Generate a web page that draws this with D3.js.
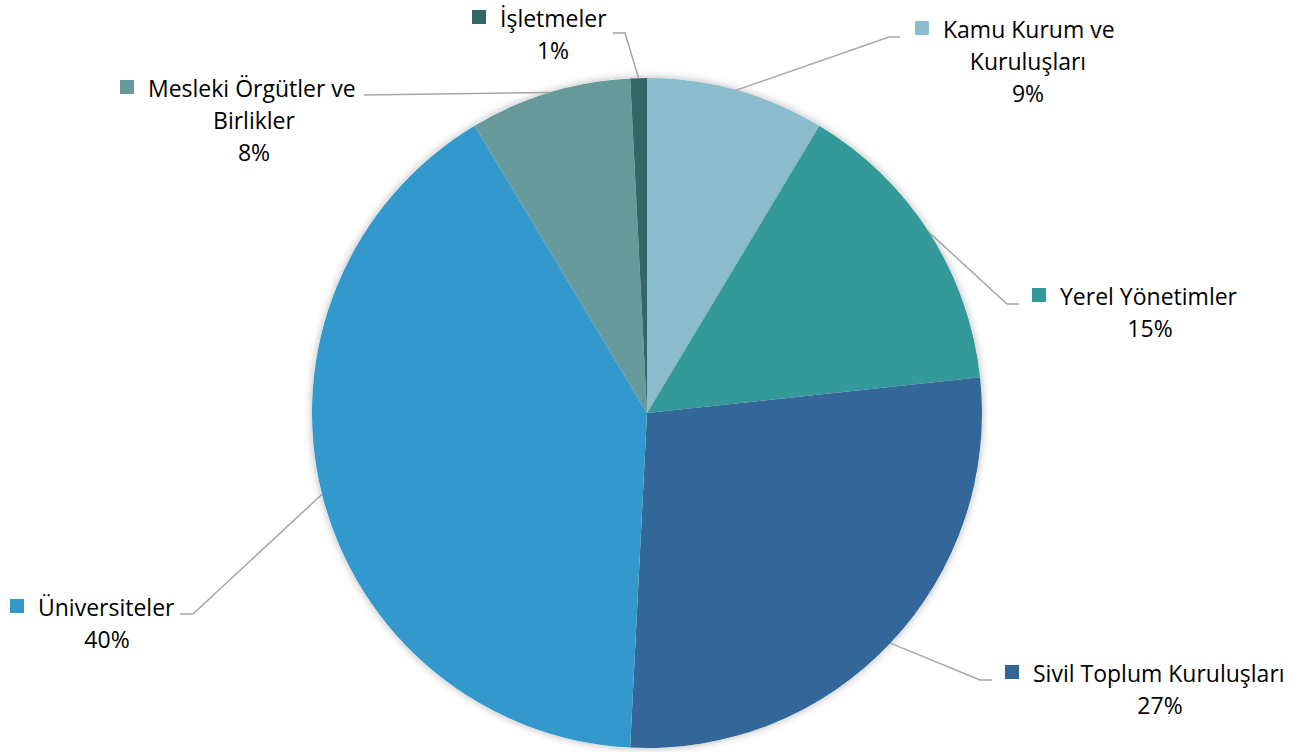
<!DOCTYPE html>
<html><head><meta charset="utf-8">
<script src="https://cdn.jsdelivr.net/npm/d3@7"></script>
<style>html,body{margin:0;padding:0;background:#fff;}svg{display:block;}</style>
</head><body>
<svg id="chart" width="1299" height="752"></svg>
<script>
const categories = ["Kamu Kurum ve Kuruluşları","Yerel Yönetimler","Sivil Toplum Kuruluşları","Üniversiteler","Mesleki Örgütler ve Birlikler","İşletmeler"];
const values = [8.6, 14.7, 27.5, 40.6, 7.8, 0.8];
const percentLabels = ["9%","15%","27%","40%","8%","1%"];
const labelLines = [["Kamu Kurum ve","Kuruluşları"],["Yerel Yönetimler"],["Sivil Toplum Kuruluşları"],["Üniversiteler"],["Mesleki Örgütler ve","Birlikler"],["İşletmeler"]];
const colors = ["#8BBCCE","#339999","#336699","#3399CC","#669999","#336666"];

const layout = [
  {tx:943, by:38, cx:1028, elbow:[889,37], end:[900,37]},
  {tx:1060, by:305, cx:1150, elbow:[1007,304], end:[1019,304]},
  {tx:1033, by:682, cx:1160, elbow:[980,680], end:[992,680]},
  {tx:38, by:616, cx:107, elbow:[193,614], end:[180,614]},
  {tx:148, by:97, cx:254, elbow:[364,95], end:[364,95]},
  {tx:500, by:27, cx:553, elbow:[625,33], end:[613,33]}
];

const svg = d3.select("#chart");
const cx = 647, cy = 413, R = 335;
const defs = svg.append("defs");
const f = defs.append("filter").attr("id","sh").attr("x","-10%").attr("y","-10%").attr("width","120%").attr("height","120%");
f.append("feDropShadow").attr("dx",0).attr("dy",0).attr("stdDeviation",4).attr("flood-color","#000").attr("flood-opacity",0.3);

const pie = d3.pie().sort(null).value(d=>d)(values);
const arc = d3.arc().innerRadius(0).outerRadius(R);
const g = svg.append("g").attr("transform",`translate(${cx},${cy})`);
g.append("circle").attr("r",R).attr("fill","#fff").attr("filter","url(#sh)");
g.selectAll("path.s").data(pie).join("path").attr("class","s")
  .attr("d",arc).attr("fill",(d,i)=>colors[i]);

pie.forEach((d,i)=>{
  const L = layout[i];
  const a = (d.startAngle+d.endAngle)/2;
  const sx = cx + Math.sin(a)*R, sy = cy - Math.cos(a)*R;
  svg.append("polyline")
    .attr("points",[[sx,sy],L.elbow,L.end].map(p=>p.join(",")).join(" "))
    .attr("fill","none").attr("stroke","#A6A6A6").attr("stroke-width",1.5);
});

const font = "'Open Sans', sans-serif";
const fs = 23;
pie.forEach((d,i)=>{
  const L = layout[i];
  const lines = labelLines[i];
  svg.append("rect").attr("x",L.tx-28).attr("y",L.by-17).attr("width",14).attr("height",14).attr("fill",colors[i]);
  svg.append("text").attr("x",L.tx).attr("y",L.by).text(lines[0])
    .attr("font-family",font).attr("font-size",fs).attr("fill","#000");
  let y = L.by;
  for(let k=1;k<lines.length;k++){
    y += 32;
    svg.append("text").attr("x",L.cx).attr("y",y).attr("text-anchor","middle").text(lines[k])
      .attr("font-family",font).attr("font-size",fs).attr("fill","#000");
  }
  y += 32;
  svg.append("text").attr("x",L.cx).attr("y",y).attr("text-anchor","middle").text(percentLabels[i])
    .attr("font-family",font).attr("font-size",fs).attr("fill","#000");
});
</script>
</body></html>
